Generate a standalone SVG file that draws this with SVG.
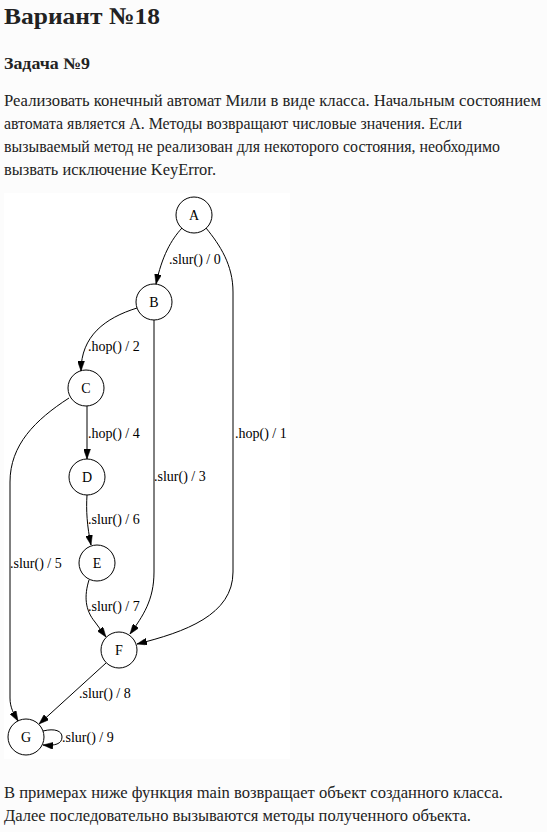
<svg xmlns="http://www.w3.org/2000/svg" width="547" height="832" viewBox="0 0 547 832">
<style>
.h1{font-size:24px;font-weight:bold}
.h3{font-size:16px;font-weight:bold}
.p{font-size:16px}
.node circle{fill:none;stroke:#000;stroke-width:1}
.node text,.lbl{font-size:14px;fill:#000}
.node text{text-anchor:middle}
.edge{fill:none;stroke:#000;stroke-width:1;marker-end:url(#arr)}
</style>
<defs>
<marker id="arr" viewBox="0 0 10 7" refX="10" refY="3.5" markerWidth="10" markerHeight="7" markerUnits="userSpaceOnUse" orient="auto">
<path d="M0,0 L10,3.5 L0,7 Z" fill="#000" stroke="#000" stroke-width="0.5"/>
</marker>
</defs>
<rect width="547" height="832" fill="#fcfcfc"/>
<g id="page-text" font-family="Liberation Serif, Times New Roman, serif" fill="#222">
<text class="h1" x="4" y="24" textLength="156" lengthAdjust="spacingAndGlyphs">Вариант №18</text>
<text class="h3" x="4" y="69" textLength="86" lengthAdjust="spacingAndGlyphs">Задача №9</text>
<text class="p" x="4" y="106" textLength="537" lengthAdjust="spacingAndGlyphs">Реализовать конечный автомат Мили в виде класса. Начальным состоянием</text>
<text class="p" x="4" y="129" textLength="458" lengthAdjust="spacingAndGlyphs">автомата является A. Методы возвращают числовые значения. Если</text>
<text class="p" x="4" y="152" textLength="496" lengthAdjust="spacingAndGlyphs">вызываемый метод не реализован для некоторого состояния, необходимо</text>
<text class="p" x="4" y="175" textLength="212" lengthAdjust="spacingAndGlyphs">вызвать исключение KeyError.</text>
<text class="p" x="4" y="798" textLength="499" lengthAdjust="spacingAndGlyphs">В примерах ниже функция main возвращает объект созданного класса.</text>
<text class="p" x="4" y="821" textLength="467" lengthAdjust="spacingAndGlyphs">Далее последовательно вызываются методы полученного объекта.</text>
</g>
<rect x="4" y="193" width="286" height="566" fill="#fff"/>
<g id="connectors" font-family="Liberation Serif, Times New Roman, serif">
<path class="edge" d="M182,228 C171,240 162,256 156,284"/>
<path class="edge" d="M206,228 C220,245 233,265 233,292 L233,572 C233,615 185,632 137,644"/>
<path class="edge" d="M137,308 C105,318 81,336 81,371"/>
<path class="edge" d="M154,320 L154,572 C154,600 143,616 130,634"/>
<path class="edge" d="M87,406 L87,459"/>
<path class="edge" d="M69,398 C35,420 10,445 10,482 L10,698 C10,708 14,714 18,721"/>
<path class="edge" d="M87,495 C86,510 87,526 91,545"/>
<path class="edge" d="M89,580 C84,596 85,610 95,622 L106,637"/>
<path class="edge" d="M106,663 L39,724"/>
<path class="edge" d="M43,731 C55,728 62,731 62,737 C62,744 55,746 43,745"/>
<text class="lbl" x="169" y="264">.slur() / 0</text>
<text class="lbl" x="235" y="438">.hop() / 1</text>
<text class="lbl" x="88" y="351">.hop() / 2</text>
<text class="lbl" x="154" y="481">.slur() / 3</text>
<text class="lbl" x="88" y="438">.hop() / 4</text>
<text class="lbl" x="10" y="568">.slur() / 5</text>
<text class="lbl" x="88" y="524">.slur() / 6</text>
<text class="lbl" x="88" y="611">.slur() / 7</text>
<text class="lbl" x="79" y="698">.slur() / 8</text>
<text class="lbl" x="62" y="742">.slur() / 9</text>
</g>
<g id="nodes" font-family="Liberation Serif, Times New Roman, serif">
<g id="node-A" class="node"><circle cx="194" cy="215" r="18"/><text x="194" y="220">A</text></g>
<g id="node-B" class="node"><circle cx="154" cy="302" r="18"/><text x="154" y="307">B</text></g>
<g id="node-C" class="node"><circle cx="86" cy="388" r="18"/><text x="86" y="393">C</text></g>
<g id="node-D" class="node"><circle cx="87" cy="477" r="18"/><text x="87" y="482">D</text></g>
<g id="node-E" class="node"><circle cx="97" cy="563" r="18"/><text x="97" y="568">E</text></g>
<g id="node-F" class="node"><circle cx="119" cy="650" r="18"/><text x="119" y="655">F</text></g>
<g id="node-G" class="node"><circle cx="26" cy="737" r="18"/><text x="26" y="742">G</text></g>
</g>
</svg>
